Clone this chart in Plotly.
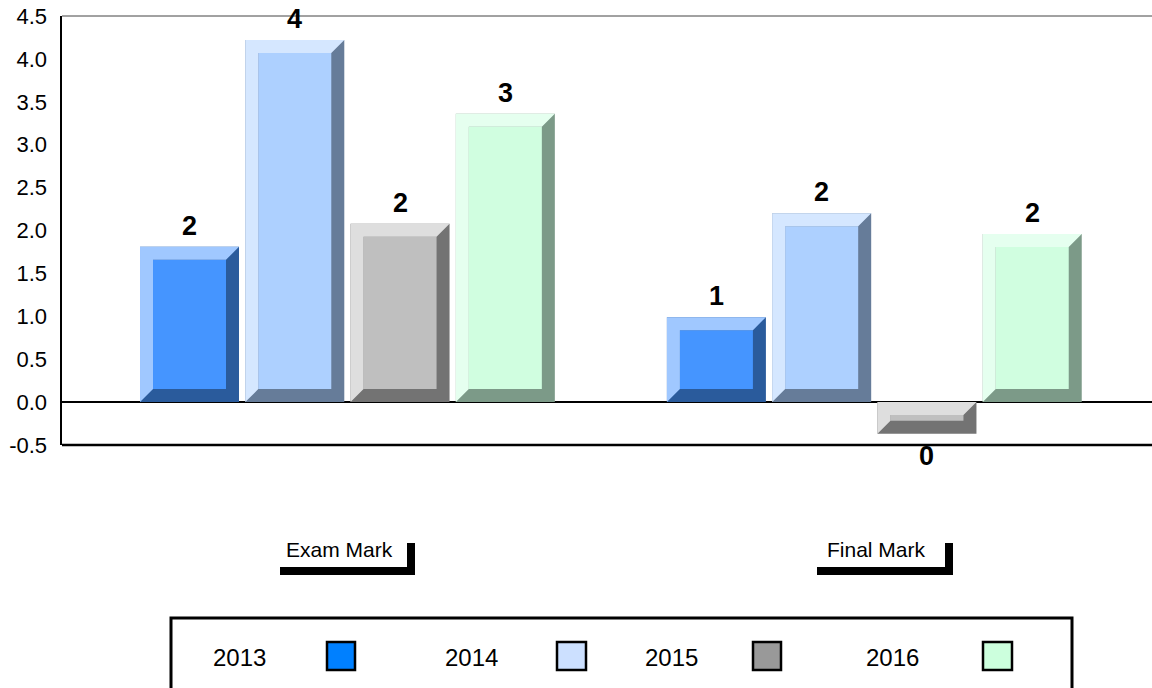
import plotly.graph_objects as go

# ---- data ----
categories = ["Exam Mark", "Final Mark"]
years = ["2013", "2014", "2015", "2016"]
v2013 = [1.81, 0.99]
v2014 = [4.22, 2.20]
v2015 = [2.08, -0.37]
v2016 = [3.36, 1.96]
series_values = [v2013, v2014, v2015, v2016]
y_ticks = [-0.5, 0.0, 0.5, 1.0, 1.5, 2.0, 2.5, 3.0, 3.5, 4.0, 4.5]
y_tick_labels = [f"{t:.1f}" for t in y_ticks]

# ---- styles ----
face_colors = ["#4595FF", "#ADD0FF", "#BFBFBF", "#D0FEE0"]
light_colors = ["#A0C8FF", "#D5E7FF", "#DEDEDE", "#E5FFEF"]
dark_colors = ["#2A5B9C", "#667C99", "#737373", "#7C9A88"]
legend_colors = ["#0080FF", "#CCE0FF", "#999999", "#CCFFDD"]

W, H = 1152, 688
ML, MR, MT, MB = 62, 0, 16, 243
PW, PH = W - ML - MR, H - MT - MB
XR = [-0.5417, 1.527]
YR = [-0.5, 4.5]

xs = list(range(len(categories)))
bar_w = 0.1879
pitch = 0.1998
start = -(3 * pitch + bar_w) / 2
dx = 13 * (XR[1] - XR[0]) / PW
dy = 13 * (YR[1] - YR[0]) / PH

FONT = "Liberation Sans, Arial, sans-serif"

fig = go.Figure()

for i, (yr, vals) in enumerate(zip(years, series_values)):
    off = start + i * pitch
    # dark base (right & bottom bevel)
    fig.add_trace(go.Bar(x=xs, y=vals, width=bar_w, offset=off,
                         marker=dict(color=dark_colors[i], line=dict(width=0)),
                         name=yr, showlegend=False, hoverinfo="skip"))
    # inner face
    bases, heights = [], []
    for v in vals:
        lo, hi = min(0, v), max(0, v)
        h = max(hi - lo - 2 * dy, 0)
        bases.append(lo + dy)
        heights.append(h)
    fig.add_trace(go.Bar(x=xs, y=heights, base=bases, width=bar_w - 2 * dx,
                         offset=off + dx,
                         marker=dict(color=face_colors[i], line=dict(width=0)),
                         showlegend=False, hoverinfo="skip"))
    # light top/left bevel
    for xc, v in zip(xs, vals):
        lo, hi = min(0, v), max(0, v)
        x0 = xc + off
        x1 = x0 + bar_w
        px = [x0, x0, x1, x1 - dx, x0 + dx, x0 + dx, x0]
        py = [lo, hi, hi, hi - dy, hi - dy, lo + dy, lo]
        fig.add_trace(go.Scatter(x=px, y=py, mode="lines", fill="toself",
                                 fillcolor=light_colors[i], line=dict(width=0),
                                 showlegend=False, hoverinfo="skip"))

# data labels
annotations = []
for i, vals in enumerate(series_values):
    off = start + i * pitch
    for xc, v in zip(xs, vals):
        annotations.append(dict(
            x=xc + off + bar_w / 2, y=v, xref="x", yref="y",
            text=f"<b>{int(round(v))}</b>", showarrow=False,
            yanchor="bottom" if v >= 0 else "top",
            yshift=4 if v >= 0 else -5,
            font=dict(family=FONT, size=27, color="black")))


def pxx(p):
    return (p - ML) / PW


def pxy(p):
    return (H - MB - p) / PH


shapes = []
# top and bottom frame lines
shapes.append(dict(type="line", xref="paper", yref="paper", x0=0, x1=1, y0=1, y1=1,
                   line=dict(color="#444444", width=1)))
shapes.append(dict(type="line", xref="paper", yref="paper", x0=0, x1=1, y0=0, y1=0,
                   line=dict(color="black", width=2.5)))

# category labels with bracket decoration
cat_text_x = [339.5, 876.5]
bracket_h = [(280, 415), (817, 953)]
for c, tx, (bx0, bx1) in zip(categories, cat_text_x, bracket_h):
    annotations.append(dict(x=pxx(tx), y=pxy(549), xref="paper", yref="paper",
                            text=c, showarrow=False, xanchor="center", yanchor="middle",
                            font=dict(family=FONT, size=21, color="black")))
    shapes.append(dict(type="rect", xref="paper", yref="paper",
                       x0=pxx(bx0), x1=pxx(bx1), y0=pxy(575), y1=pxy(567),
                       fillcolor="black", line=dict(width=0)))
    shapes.append(dict(type="rect", xref="paper", yref="paper",
                       x0=pxx(bx1 - 8), x1=pxx(bx1), y0=pxy(575), y1=pxy(543),
                       fillcolor="black", line=dict(width=0)))

# legend box
shapes.append(dict(type="rect", xref="paper", yref="paper",
                   x0=pxx(171), x1=pxx(1072), y0=pxy(700), y1=pxy(618),
                   line=dict(color="black", width=3), fillcolor="rgba(0,0,0,0)"))
leg_text_x = [239, 471, 671.5, 892]
leg_sw_x = [(327, 355), (557, 586), (753, 781), (983, 1012)]
for yr, tx, (sx0, sx1), col in zip(years, leg_text_x, leg_sw_x, legend_colors):
    annotations.append(dict(x=pxx(tx), y=pxy(657), xref="paper", yref="paper",
                            text=yr, showarrow=False, xanchor="center", yanchor="middle",
                            font=dict(family=FONT, size=24, color="black")))
    shapes.append(dict(type="rect", xref="paper", yref="paper",
                       x0=pxx(sx0), x1=pxx(sx1), y0=pxy(670), y1=pxy(642),
                       fillcolor=col, line=dict(color="black", width=2.5)))

fig.update_layout(
    width=W, height=H,
    margin=dict(l=ML, r=MR, t=MT, b=MB, autoexpand=False),
    paper_bgcolor="white", plot_bgcolor="white",
    barmode="overlay",
    showlegend=False,
    annotations=annotations,
    shapes=shapes,
    xaxis=dict(range=XR, showgrid=False, zeroline=False, showticklabels=False,
               showline=False, ticks="", fixedrange=True, automargin=False),
    yaxis=dict(range=YR, tickmode="array", tickvals=y_ticks, ticktext=y_tick_labels,
               showgrid=False,
               zeroline=True, zerolinecolor="black", zerolinewidth=1.5,
               showline=True, linecolor="black", linewidth=2.5, ticks="",
               ticklabelstandoff=8, automargin=False,
               tickfont=dict(family=FONT, size=22, color="black"), fixedrange=True),
)

fig.write_html("out.html",
               config={"displayModeBar": False, "staticPlot": True},
               post_script="document.body.style.margin='0px';"
                           "document.body.style.overflow='hidden';")
